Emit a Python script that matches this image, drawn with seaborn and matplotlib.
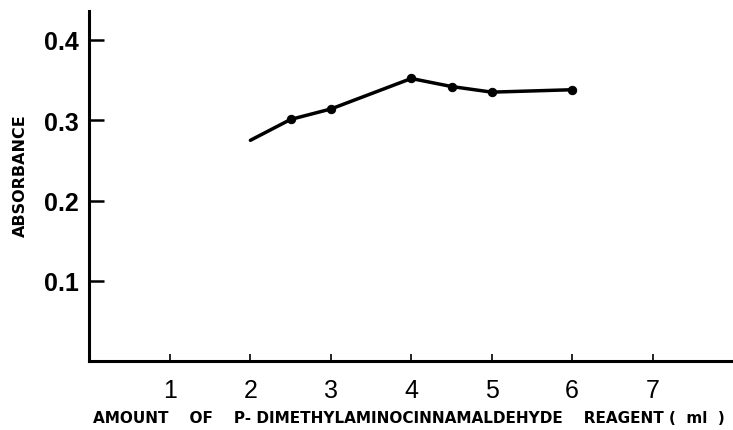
import matplotlib
matplotlib.use("Agg")
import matplotlib.pyplot as plt
import seaborn as sns
import pandas as pd

# Data
reagent_ml = [2.0, 2.5, 3.0, 4.0, 4.5, 5.0, 6.0]
absorbance = [0.275, 0.301, 0.314, 0.352, 0.342, 0.335, 0.338]
x_ticks = [1, 2, 3, 4, 5, 6, 7]
y_ticks = [0.1, 0.2, 0.3, 0.4]
y_tick_labels = ["0.1", "0.2", "0.3", "0.4"]

sns.set_style("ticks")
plt.rcParams["font.family"] = ["Liberation Sans", "DejaVu Sans"]
plt.rcParams["text.color"] = "black"
plt.rcParams["axes.labelcolor"] = "black"
plt.rcParams["xtick.color"] = "black"
plt.rcParams["ytick.color"] = "black"

df = pd.DataFrame({"ml": reagent_ml, "abs": absorbance})

fig = plt.figure(figsize=(7.33, 4.31), dpi=100)
ax = fig.add_axes([0.1221, 0.160, 0.878, 0.812])

sns.lineplot(data=df, x="ml", y="abs", ax=ax, color="black", linewidth=2.5,
             marker="o", markersize=6, markevery=list(range(1, len(reagent_ml))),
             markeredgecolor="black", markerfacecolor="black")

ax.set_xlim(0, 8)
ax.set_ylim(0, 0.436)

ax.set_xticks(x_ticks)
ax.set_xticklabels([str(t) for t in x_ticks], fontsize=18)
ax.set_yticks(y_ticks)
ax.set_yticklabels(y_tick_labels, fontsize=18, fontweight="bold")

ax.tick_params(axis="y", direction="in", length=11, width=1.8, pad=8, colors="black")
ax.tick_params(axis="x", direction="in", length=5, width=1.2, pad=12, colors="black")

for s in ["top", "right"]:
    ax.spines[s].set_visible(False)
for s in ["left", "bottom"]:
    ax.spines[s].set_color("black")
    ax.spines[s].set_linewidth(2.2)

ax.set_xlabel("AMOUNT    OF    P- DIMETHYLAMINOCINNAMALDEHYDE    REAGENT (  ml  )",
              fontsize=11, fontweight="bold", family="DejaVu Sans", color="black")
ax.xaxis.set_label_coords(0.497, -0.160)
ax.xaxis.label.set_va("center")
ax.set_ylabel("ABSORBANCE", fontsize=11.5, fontweight="bold", family="DejaVu Sans",
              color="black")
ax.yaxis.set_label_coords(-0.108, 0.534)
ax.yaxis.label.set_va("center")

fig.savefig("out.png", dpi=100)
